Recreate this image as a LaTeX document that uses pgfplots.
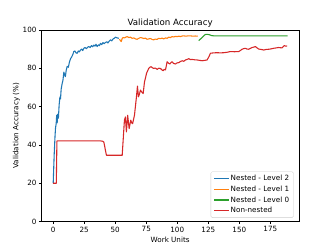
\documentclass[border=0pt]{standalone}
\usepackage{pgfplots}
\pgfplotsset{compat=1.18}
\usepackage{fontspec}
\setmainfont{DejaVu Sans}
\definecolor{tabblue}{HTML}{1F77B4}
\definecolor{taborange}{HTML}{FF7F0E}
\definecolor{tabgreen}{HTML}{2CA02C}
\definecolor{tabred}{HTML}{D62728}
\begin{document}
\begin{tikzpicture}
\path (-57.6pt,-38.016pt) rectangle (403.2pt,307.584pt);
\begin{axis}[
  at={(0,0)}, anchor=south west,
  scale only axis, width=357.12pt, height=266.11pt,
  xmin=-9.43, xmax=197.93, ymin=0, ymax=100,
  xtick={0,25,...,175}, ytick={0,20,...,100},
  xtick pos=bottom, ytick pos=left,
  tick align=outside, major tick length=3.5pt,
  every tick/.style={black, line width=0.8pt},
  axis line style={line width=0.8pt},
  /pgf/number format/assume math mode=true,
  tick label style={font=\fontsize{10}{12}\selectfont},
  label style={font=\fontsize{10}{12}\selectfont},
  ylabel style={yshift=-3pt},
  title style={font=\fontsize{12}{14}\selectfont, yshift=-6pt},
  title={Validation Accuracy},
  xlabel={Work Units}, ylabel={Validation Accuracy (\%)},
  legend style={at={(0.98,0.02)}, anchor=south east, draw=black!20, rounded corners=2pt,
    font=\fontsize{10}{12}\selectfont, cells={anchor=west}, inner xsep=4pt, inner ysep=3pt,
    row sep=1.8pt},
  legend image code/.code={\draw[sharp corners, line width=1.5pt, #1] (0pt,0pt) -- (20pt,0pt);},
]
\addplot[tabblue, line width=1.5pt, line join=round] coordinates {
(0,20) (0.8,35) (1.5,45) (1.9,49) (2.4,51) (2.8,55.5) (3.2,51.5) (3.7,56) (4.2,54) (4.8,61)
(5.4,65) (5.9,64) (6.4,69) (7.2,72) (7.8,73.5) (8.6,78) (9.2,76.5) (9.8,75.6) (10.5,79)
(11.3,81) (12.2,80.5) (13,83) (14,85) (15,86) (16,87.5) (16.6,88.7) (17.5,89) (18.4,88)
(19.3,87.8) (20.2,89) (21,88.5) (22,89.5) (23,90) (23.8,89.2) (24.7,90.4) (25.7,90.8) (26.8,90.2)
(27.8,91) (28.7,91.3) (29.8,90.8) (30.8,91.8) (31.8,91.2) (32.8,92.1) (33.7,91.5) (34.5,92.5)
(35.4,91.3) (36.5,92.2) (37.3,91.8) (38.1,93) (39.1,92.3) (40.1,93.4) (41.1,92.8) (42.1,93.4)
(43.2,93.8) (44.1,93.2) (45.2,94.2) (46.2,94.8) (47.2,94.3) (48.3,95.3) (49.2,95.6) (50.2,96.2)
(51.2,95.9) (52.9,95.6)
};
\addlegendentry{Nested - Level 2}
\addplot[taborange, line width=1.5pt, line join=round] coordinates {
(53.4,95.1) (54.8,93.9) (55.6,95.5) (56.4,96) (57.5,95.8) (58.5,96.2) (59.6,96.5) (61,96)
(62.3,96.2) (63.6,95.6) (65,95.8) (66.3,95.3) (67.6,95.1) (69,95.6) (70.3,96) (71.7,95.8)
(73,95.5) (74.3,95.7) (75.7,95.1) (77,95.3) (78.4,95.5) (79.7,95) (81,94.8) (82.3,95.2)
(83.7,95) (85,95.6) (86.4,95.4) (87.7,95.7) (89.1,95.3) (90.5,95.8) (91.8,95.6) (93.2,96.2)
(94.5,96) (95.8,96.5) (97.2,96.3) (98.5,96.6) (99.9,96.5) (101.3,96.7) (102.6,96.5) (103.9,96.8)
(105.2,96.9) (107,96.7) (108.8,96.9) (110.6,96.9) (112.5,96.7) (114.5,96.8) (116.5,96.7)
};
\addlegendentry{Nested - Level 1}
\addplot[tabgreen, line width=1.5pt, line join=round] coordinates {
(117.3,94.4) (119.3,95.6) (121.3,96.9) (122.4,97.5) (123.5,97.7) (124.8,97.6) (126.2,97.4)
(127.8,97) (129.4,96.9) (140,96.9) (150,96.9) (160,96.9) (170,96.9) (180,96.9) (189,96.9)
};
\addlegendentry{Nested - Level 0}
\addplot[tabred, line width=1.5pt, line join=round] coordinates {
(0,20) (1.3,20) (2.5,20) (3,42.1) (10,42.1) (20,42.1) (30,42.1) (38.1,42.1) (40,41.9) (40.8,41.5)
(42.9,34.6) (50,34.6) (55.6,34.6) (57.4,52.9) (58.2,54.6) (59,46.8) (60,55.5) (61.2,48.5)
(62.5,52.9) (63.3,51.5) (64,51.1) (65.5,55.5) (67.1,65.1) (67.9,70.7) (68.7,65.1) (69.5,66.5)
(70.3,68.6) (71.5,67.5) (72.5,66.8) (73.6,73) (74.4,75) (75.2,77.3) (76,78.5) (77,79.9) (77.8,80.5)
(78.9,80.8) (80,80.2) (81,79.9) (82.3,80.1) (83.8,79.4) (85,80) (86.4,79.9) (87.5,79.2) (88.6,78.7)
(89.5,79.4) (90.5,79.1) (91.8,83.4) (93,82.6) (94,82.2) (95,83) (95.8,83.4) (97,82.5) (98.5,82.2)
(99.8,82.8) (101.2,82.9) (102.5,83.5) (103.9,83.9) (105.2,83.6) (106.6,84.3) (108,84.6) (109.3,85)
(110.6,84.5) (111.9,84.6) (114,84.4) (116,84.3) (118,84.1) (120,83.9) (122,84.1) (124,84.3)
(125.5,86) (126.7,87.8) (129,88) (132,88.1) (135,88) (137.4,88.1) (140,88.3) (142.8,88.7)
(146,88.6) (149.5,88.7) (151,89.3) (152.2,89.9) (153.5,90.2) (154.9,90.4) (156.2,90) (157.6,89.9)
(159,90.4) (160.3,90.8) (161.6,91) (163,91.3) (164.3,90.6) (165.6,90) (167.5,89.8) (169.7,89.5)
(171.7,89.8) (173.7,89.9) (175.7,90.1) (177.7,90.4) (179.7,90.6) (181.7,90.8) (183,90.7)
(184.4,90.6) (185.4,91.3) (186.3,91.8) (187.4,91.5) (188.5,91.6)
};
\addlegendentry{Non-nested}
\end{axis}
\end{tikzpicture}
\end{document}
